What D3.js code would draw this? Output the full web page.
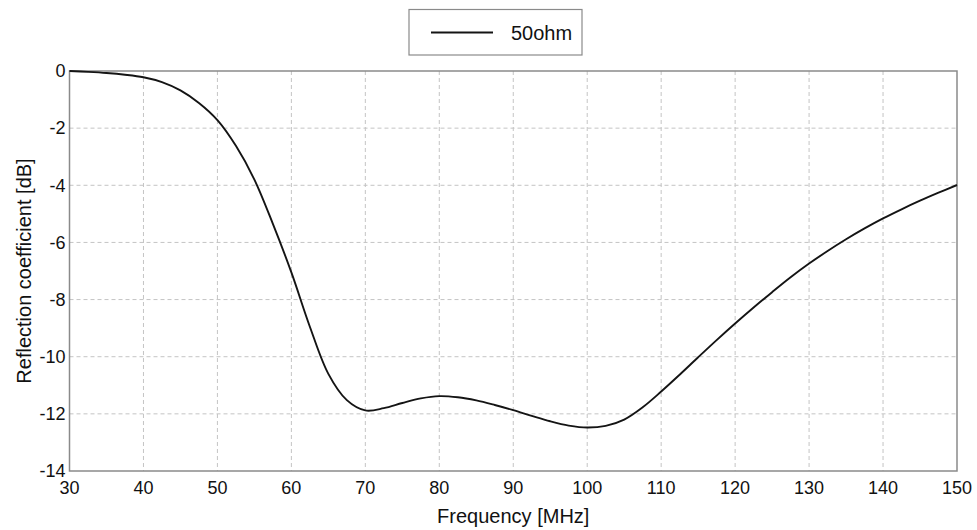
<!DOCTYPE html>
<html>
<head>
<meta charset="utf-8">
<script src="https://cdn.jsdelivr.net/npm/d3@7"></script>
<style>
  body { margin: 0; background: #fff; }
  svg { display: block; font-family: "Liberation Sans", Arial, sans-serif; }
</style>
</head>
<body>
<div id="chart"></div>
<script>
// frequency in MHz and reflection coefficient in dB
const freq = [30, 32.5, 35, 37.5, 40, 42.5, 45, 47.5, 50, 52.5, 55, 57.5, 60, 62.5, 65, 67.5,
  70, 72.5, 75, 77.5, 80, 82.5, 85, 87.5, 90, 92.5, 95, 97.5, 100, 102.5, 105, 107.5,
  110, 112.5, 115, 117.5, 120, 122.5, 125, 127.5, 130, 132.5, 135, 137.5, 140, 142.5,
  145, 147.5, 150];
const refl = [0, -0.03, -0.07, -0.13, -0.22, -0.39, -0.68, -1.12, -1.72, -2.62, -3.8, -5.35,
  -7.05, -8.95, -10.6, -11.52, -11.88, -11.8, -11.62, -11.46, -11.38, -11.42, -11.53, -11.69,
  -11.87, -12.07, -12.26, -12.41, -12.48, -12.42, -12.2, -11.77, -11.22, -10.63, -10.02, -9.42,
  -8.84, -8.28, -7.74, -7.22, -6.74, -6.3, -5.89, -5.51, -5.16, -4.84, -4.54, -4.26, -3.99];
const seriesName = "50ohm";
const xTicks = [30, 40, 50, 60, 70, 80, 90, 100, 110, 120, 130, 140, 150];
const yTicks = [0, -2, -4, -6, -8, -10, -12, -14];

const width = 977, height = 530;
const margin = { left: 69.5, right: 20, top: 71, bottom: 59 };

const svg = d3.select("#chart").append("svg")
  .attr("width", width)
  .attr("height", height);

const x = d3.scaleLinear().domain([30, 150]).range([margin.left, width - margin.right]);
const y = d3.scaleLinear().domain([-14, 0]).range([height - margin.bottom, margin.top]);

// grid
svg.append("g")
  .selectAll("line")
  .data(xTicks.slice(1, -1))
  .join("line")
  .attr("x1", d => x(d)).attr("x2", d => x(d))
  .attr("y1", y(0)).attr("y2", y(-14))
  .attr("stroke", "#c4c4c4")
  .attr("stroke-dasharray", "4,3");

svg.append("g")
  .selectAll("line")
  .data(yTicks.slice(1, -1))
  .join("line")
  .attr("x1", x(30)).attr("x2", x(150))
  .attr("y1", d => y(d)).attr("y2", d => y(d))
  .attr("stroke", "#c4c4c4")
  .attr("stroke-dasharray", "4,3");

// frame
svg.append("rect")
  .attr("x", x(30)).attr("y", y(0))
  .attr("width", x(150) - x(30)).attr("height", y(-14) - y(0))
  .attr("fill", "none")
  .attr("stroke", "#8a8a8a")
  .attr("stroke-width", 1.5);

// tick labels
svg.append("g")
  .selectAll("text")
  .data(xTicks)
  .join("text")
  .attr("x", d => x(d))
  .attr("y", y(-14) + 23)
  .attr("text-anchor", "middle")
  .attr("font-size", 18)
  .attr("fill", "#111")
  .text(d => d);

svg.append("g")
  .selectAll("text")
  .data(yTicks)
  .join("text")
  .attr("x", x(30) - 4)
  .attr("y", d => y(d))
  .attr("dy", "0.35em")
  .attr("text-anchor", "end")
  .attr("font-size", 18)
  .attr("fill", "#111")
  .text(d => d);

// axis titles
svg.append("text")
  .attr("x", (x(30) + x(150)) / 2)
  .attr("y", 523)
  .attr("text-anchor", "middle")
  .attr("font-size", 20)
  .attr("fill", "#111")
  .text("Frequency [MHz]");

svg.append("text")
  .attr("transform", `translate(31,${(y(0) + y(-14)) / 2}) rotate(-90)`)
  .attr("text-anchor", "middle")
  .attr("font-size", 20)
  .attr("fill", "#111")
  .text("Reflection coefficient [dB]");

// curve
const pts = freq.map((f, i) => [f, refl[i]]);
const line = d3.line()
  .x(d => x(d[0]))
  .y(d => y(d[1]))
  .curve(d3.curveCatmullRom.alpha(0.5));

svg.append("path")
  .datum(pts)
  .attr("d", line)
  .attr("fill", "none")
  .attr("stroke", "#141414")
  .attr("stroke-width", 1.9);

// legend
const lg = svg.append("g").attr("transform", "translate(409,9.5)");
lg.append("rect")
  .attr("width", 173).attr("height", 45.5)
  .attr("fill", "#fff")
  .attr("stroke", "#8a8a8a")
  .attr("stroke-width", 1.2);
lg.append("line")
  .attr("x1", 22).attr("x2", 84)
  .attr("y1", 23).attr("y2", 23)
  .attr("stroke", "#141414")
  .attr("stroke-width", 2);
lg.append("text")
  .attr("x", 102).attr("y", 23)
  .attr("dy", "0.35em")
  .attr("font-size", 20)
  .attr("fill", "#111")
  .text(seriesName);
</script>
</body>
</html>
